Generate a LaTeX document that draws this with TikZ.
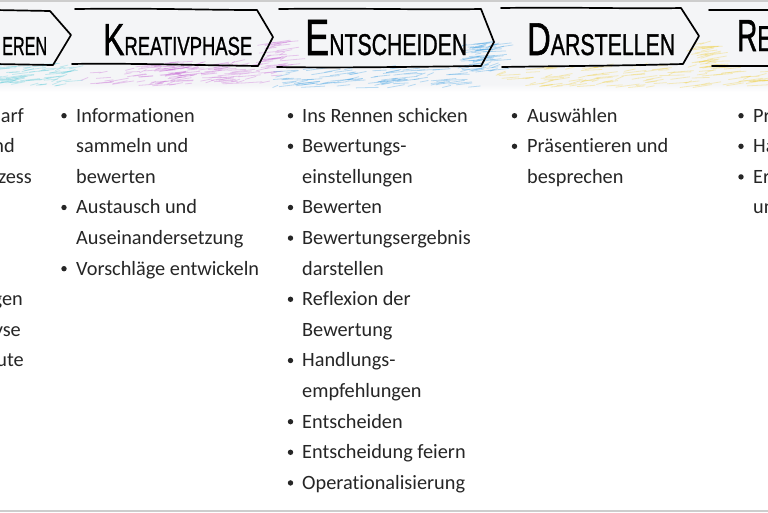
\documentclass[tikz,border=0pt]{standalone}
\usepackage{fontspec}
\usepackage{graphicx}
\setmainfont{Carlito}[Ligatures={NoCommon}]
\newfontfamily\handfont{Liberation Sans}[FakeBold=1.2]
\definecolor{txtc}{RGB}{38,38,38}
\definecolor{bandc}{RGB}{244,245,247}
\definecolor{framec}{RGB}{205,205,205}
\definecolor{chcyan}{RGB}{80,200,215}
\definecolor{chmag}{RGB}{195,90,210}
\definecolor{chblue}{RGB}{40,150,225}
\definecolor{chyel}{RGB}{240,205,50}
\newcommand\chalkzone[6]{%
  \foreach \n in {1,...,#6}{%
    \pgfmathsetmacro\xa{#2+rnd*(#3-#2)}%
    \pgfmathsetmacro\ya{#4+rnd*(#5-#4)}%
    \pgfmathsetmacro\ll{5+rnd*20}%
    \pgfmathsetmacro\dd{-0.5-rnd*3}%
    \draw[#1, opacity=0.3, line width=0.8pt, line cap=round] (\xa,\ya) -- ++(\ll,\dd);
  }}
\tikzset{
  item/.style={anchor=base west, inner sep=0pt, text=txtc, font=\fontsize{20.3}{20.3}\selectfont},
  frag/.style={anchor=base east, inner sep=0pt, text=txtc, font=\fontsize{20.3}{20.3}\selectfont},
  head/.style={anchor=base west, inner sep=0pt, text=black, font=\handfont},
  marker/.style={line width=1.7pt, line join=round, line cap=round, black},
  dot/.style={fill=txtc}
}
\begin{document}
\begin{tikzpicture}[x=1pt,y=-1pt]
\useasboundingbox (0,0) rectangle (768,512);
\begin{scope}
\clip (0,0) rectangle (768,512);
\fill[white] (0,0) rectangle (768,512);
\fill[bandc] (0,2) rectangle (768,84);
\shade[top color=bandc, bottom color=white] (0,84) rectangle (768,92);
\fill[framec] (0,0) rectangle (768,2);
\fill[framec] (0,509.5) rectangle (768,512);
% chalk
\pgfmathsetseed{7}
\chalkzone{chcyan}{-10}{70}{64}{86}{70}
\chalkzone{chmag}{80}{250}{66}{86}{70}
\chalkzone{chmag}{150}{260}{62}{84}{50}
\chalkzone{chmag}{255}{282}{42}{76}{35}
\chalkzone{chblue}{270}{470}{68}{88}{90}
\chalkzone{chblue}{460}{492}{42}{72}{60}
\chalkzone{chyel}{495}{700}{66}{88}{90}
\chalkzone{chyel}{685}{712}{44}{70}{35}
\chalkzone{chyel}{700}{770}{68}{86}{25}
% arrows
\draw[marker] (-5,10) -- (50,11) -- (71,35) -- (53,65) -- (-5,64);
\draw[marker] (75,9) .. controls (160,8) and (200,10) .. (257,10) -- (273,37) -- (258,66) .. controls (190,65) and (120,63) .. (72,64);
\draw[marker] (279,9) .. controls (360,8) and (420,10) .. (481,9) -- (494,42) -- (481,66) .. controls (400,67) and (330,68) .. (277,67);
\draw[marker] (501,8) .. controls (580,7) and (630,9) .. (681,8) -- (699,36) -- (683,64) .. controls (610,66) and (560,66) .. (502,67);
\draw[marker] (709,10) -- (775,10);
\draw[marker] (712,66) -- (775,66);
% headers
\node[head] (h0) at (2,55) {\resizebox{45pt}{\height}{\fontsize{26}{26}\selectfont EREN}};
\node[head] (h1) at (103,55) {\resizebox{149pt}{\height}{{\fontsize{45}{45}\selectfont K}\fontsize{26}{26}\selectfont REATIVPHASE}};
\node[head] (h2) at (305,55) {\resizebox{162pt}{\height}{{\fontsize{51}{51}\selectfont E}\fontsize{30}{30}\selectfont NTSCHEIDEN}};
\node[head] (h3) at (527,55) {\resizebox{148pt}{\height}{{\fontsize{46}{46}\selectfont D}\fontsize{30}{30}\selectfont ARSTELLEN}};
\node[head] (h4) at (737,51) {\scalebox{0.62}[1]{{\fontsize{45}{45}\selectfont R}\fontsize{36}{36}\selectfont E}};
% column 0 (cut off)
\node[frag] (c0a) at (24,122) {darf};
\node[frag] (c0b) at (15,152.6) {nd};
\node[frag] (c0c) at (32,183.2) {zess};
\node[frag] (c0d) at (23,305.6) {gen};
\node[frag] (c0e) at (21,336.2) {yse};
\node[frag] (c0f) at (24,366.8) {ute};
% column 1
\foreach \r in {0,3,5} \fill[dot] (64,122+30.6*\r-6.3) circle (2.7pt);
\node[item] (c1a) at (76,122) {Informationen};
\node[item] (c1b) at (76,152.6) {sammeln und};
\node[item] (c1c) at (76,183.2) {bewerten};
\node[item] (c1d) at (76,213.8) {Austausch und};
\node[item] (c1e) at (76,244.4) {Auseinandersetzung};
\node[item] (c1f) at (76,275) {Vorschläge entwickeln};
% column 2
\foreach \r in {0,1,3,4,6,8,10,11,12} \fill[dot] (290.5,122+30.6*\r-6.3) circle (2.7pt);
\node[item] (c2a) at (302,122) {Ins Rennen schicken};
\node[item] (c2b) at (302,152.6) {Bewertungs-};
\node[item] (c2c) at (302,183.2) {einstellungen};
\node[item] (c2d) at (302,213.8) {Bewerten};
\node[item] (c2e) at (302,244.4) {Bewertungsergebnis};
\node[item] (c2f) at (302,275) {darstellen};
\node[item] (c2g) at (302,305.6) {Reflexion der};
\node[item] (c2h) at (302,336.2) {Bewertung};
\node[item] (c2i) at (302,366.8) {Handlungs-};
\node[item] (c2j) at (302,397.4) {empfehlungen};
\node[item] (c2k) at (302,428) {Entscheiden};
\node[item] (c2l) at (302,458.6) {Entscheidung feiern};
\node[item] (c2m) at (302,489.2) {Operationalisierung};
% column 3
\foreach \r in {0,1} \fill[dot] (514.5,122+30.6*\r-6.3) circle (2.7pt);
\node[item] (c3a) at (527,122) {Auswählen};
\node[item] (c3b) at (527,152.6) {Präsentieren und};
\node[item] (c3c) at (527,183.2) {besprechen};
% column 4 (cut off)
\foreach \r in {0,1,2} \fill[dot] (741,122+30.6*\r-6.3) circle (2.7pt);
\node[item] (c4a) at (753,122) {Präsentieren};
\node[item] (c4b) at (753,152.6) {Handeln};
\node[item] (c4c) at (753,183.2) {Ergebnisse};
\node[item] (c4d) at (753,213.8) {und};
\end{scope}
\end{tikzpicture}
\end{document}
